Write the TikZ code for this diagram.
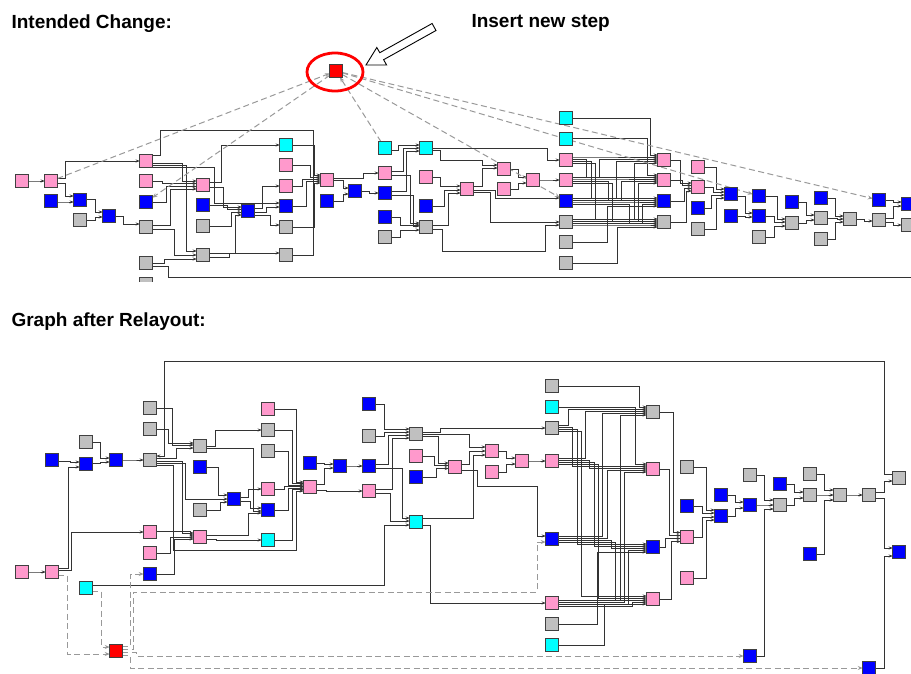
\documentclass[tikz,border=0pt]{standalone}
\usepackage{fontspec}
\setmainfont{Liberation Sans}
\usetikzlibrary{arrows.meta}
\definecolor{cPink}{HTML}{FF99CC}
\definecolor{cBlue}{HTML}{0000FF}
\definecolor{cGray}{HTML}{C0C0C0}
\definecolor{cCyan}{HTML}{00FFFF}
\definecolor{cRed}{HTML}{FF0000}
\pgfdeclarelayer{bg}
\pgfsetlayers{bg,main}
\tikzset{
  nd/.style={rectangle, draw=black!75, line width=0.8pt, minimum size=12.5pt, inner sep=0pt, outer sep=0pt},
  npk/.style={nd, fill=cPink}, nbl/.style={nd, fill=cBlue}, ngy/.style={nd, fill=cGray},
  ncy/.style={nd, fill=cCyan}, nrd/.style={nd, fill=cRed},
  edg/.style={draw=black!80, line width=0.6pt, -{Stealth[length=4pt,width=3pt]}},
  edl/.style={draw=black!80, line width=0.6pt},
  edd/.style={draw=black!40, line width=1pt, dash pattern=on 6pt off 3.5pt, -{Stealth[length=5pt,width=4pt]}},
  hdr/.style={anchor=base west, font=\bfseries\fontsize{19}{22}\selectfont}
}
\newcommand{\cx}[5]{\draw[edg] ([yshift=#2pt]#1.east) -- ++(#3,0) |- ([yshift=#5pt]#4.west);}
\begin{document}
\begin{tikzpicture}[x=1pt,y=-1pt]
\useasboundingbox (0,0) rectangle (911,673);
\node[hdr] (h1) at (8,28) {Intended Change:};
\node[hdr] (h2) at (468,27) {Insert new step};
\node[hdr] (h3) at (8,326) {Graph after Relayout:};
% ================= TOP =================
\begin{scope}
\clip (0,0) rectangle (911,281);
\node[npk] (t1) at (22,181) {};
\node[npk] (t2) at (51,181) {};
\node[nbl] (t3) at (51,201) {};
\node[nbl] (t4) at (80,200) {};
\node[ngy] (t5) at (80,220) {};
\node[nbl] (t6) at (109,216) {};
\node[npk] (t7) at (146,161) {};
\node[npk] (t8) at (146,181) {};
\node[nbl] (t9) at (146,202) {};
\node[ngy] (t10) at (146,227) {};
\node[ngy] (t11) at (146,263) {};
\node[ngy] (t12) at (146,284) {};
\node[npk] (t13) at (203,185) {};
\node[nbl] (t14) at (203,205) {};
\node[ngy] (t15) at (203,226) {};
\node[ngy] (t16) at (203,255) {};
\node[nbl] (t17) at (248,211) {};
\node[ncy] (t18) at (286,145) {};
\node[npk] (t19) at (286,165) {};
\node[npk] (t20) at (286,186) {};
\node[nbl] (t21) at (286,206) {};
\node[ngy] (t22) at (286,227) {};
\node[ngy] (t23) at (286,255) {};
\node[npk] (t24) at (327,180) {};
\node[nbl] (t25) at (327,201) {};
\node[nbl] (t26) at (355,191) {};
\node[ncy] (t27) at (385,148) {};
\node[npk] (t28) at (385,173) {};
\node[nbl] (t29) at (385,193) {};
\node[nbl] (t30) at (385,217) {};
\node[ngy] (t31) at (385,237) {};
\node[ncy] (t32) at (426,148) {};
\node[npk] (t33) at (426,177) {};
\node[nbl] (t34) at (426,206) {};
\node[ngy] (t35) at (426,227) {};
\node[npk] (t36) at (467,189) {};
\node[npk] (t37) at (504,169) {};
\node[npk] (t38) at (504,189) {};
\node[npk] (t39) at (533,180) {};
\node[ncy] (t40) at (566,118) {};
\node[ncy] (t41) at (566,139) {};
\node[npk] (t42) at (566,160) {};
\node[npk] (t43) at (566,180) {};
\node[nbl] (t44) at (566,201) {};
\node[ngy] (t45) at (566,222) {};
\node[ngy] (t46) at (566,242) {};
\node[ngy] (t47) at (566,263) {};
\node[npk] (t48) at (664,160) {};
\node[npk] (t49) at (664,180) {};
\node[nbl] (t50) at (664,201) {};
\node[ngy] (t51) at (664,222) {};
\node[npk] (t52) at (698,167) {};
\node[npk] (t53) at (698,187) {};
\node[nbl] (t54) at (698,208) {};
\node[ngy] (t55) at (698,229) {};
\node[nbl] (t56) at (731,194) {};
\node[nbl] (t57) at (731,216) {};
\node[nbl] (t58) at (759,196) {};
\node[nbl] (t59) at (759,216) {};
\node[ngy] (t60) at (759,237) {};
\node[nbl] (t61) at (792,202) {};
\node[ngy] (t62) at (792,223) {};
\node[nbl] (t63) at (821,198) {};
\node[ngy] (t64) at (821,218) {};
\node[ngy] (t65) at (821,239) {};
\node[ngy] (t66) at (850,219) {};
\node[nbl] (t67) at (879,200) {};
\node[ngy] (t68) at (879,220) {};
\node[nbl] (t69) at (908,204) {};
\node[ngy] (t70) at (908,225) {};
\node[nrd] (tr) at (336,71) {};
\coordinate (rt) at (915,277);
\draw[cRed, line width=2.8pt] (335,72) ellipse [x radius=28pt, y radius=19pt];
\draw[black, line width=0.9pt, fill=white] (366,65) -- (386.6,65.0) -- (383.6,59.7) -- (436,30.5) -- (432.1,23.5) -- (379.8,52.7) -- (376.8,47.5) -- cycle;
\begin{pgfonlayer}{bg}
\cx{t1}{0}{10}{t2}{0}
\cx{t2}{3}{8}{t7}{0}
\cx{t2}{-2}{8}{t4}{4}
\cx{t3}{-1}{10}{t4}{-2}
\cx{t4}{1}{9}{t6}{4}
\cx{t5}{0}{9}{t6}{-1}
\cx{t6}{0}{8}{t10}{3}
\cx{t7}{-2}{30}{t13}{4}
\cx{t8}{0}{10}{t13}{1.5}
\cx{t9}{0}{14}{t13}{-1.5}
\cx{t10}{2}{18}{t13}{-4}
\cx{t7}{-4}{34}{t16}{4}
\cx{t10}{-2}{22}{t16}{0}
\cx{t11}{0}{12}{t16}{-4}
\cx{t13}{-2}{14}{t17}{4}
\cx{t14}{0}{18}{t17}{1.5}
\cx{t15}{0}{22}{t17}{-1.5}
\cx{t16}{2}{26}{t17}{-4}
\cx{t16}{-2}{20}{t23}{2}
\cx{t13}{3}{12}{t18}{0}
\draw[edg] ([yshift=-6pt]t7.east) -- ++(62,0) |- ([yshift=3pt]t21.west);
\cx{t17}{3}{8}{t20}{0}
\cx{t17}{-1}{12}{t21}{-1}
\cx{t17}{-4}{16}{t22}{2}
\cx{t18}{0}{22}{t24}{5}
\cx{t19}{0}{18}{t24}{3}
\cx{t20}{0}{10}{t24}{1}
\cx{t21}{0}{14}{t24}{-1}
\cx{t22}{0}{22}{t24}{-3}
\draw[edl] (t23.east) -| (313,130) -| ([xshift=8pt,yshift=6pt]t7.east) -- ([yshift=6pt]t7.east);
\draw[edl] ([yshift=-3pt]t11.east) -- ++(16,0) |- (rt);
\cx{t24}{0}{10}{t26}{3}
\cx{t25}{0}{10}{t26}{-3}
\cx{t24}{2}{30}{t28}{0}
\cx{t26}{0}{8}{t29}{0}
\cx{t27}{-2}{7}{t32}{3}
\cx{t28}{2}{12}{t32}{0}
\cx{t29}{2}{15}{t32}{-3}
\cx{t28}{-2}{19}{t35}{4}
\cx{t29}{-2}{22}{t35}{1}
\cx{t30}{0}{9}{t35}{2}
\cx{t31}{0}{9}{t35}{-3}
\cx{t32}{0}{115}{t42}{0}
\draw[edg] ([yshift=-2pt]t32.east) -- ++(8,0) |- (482,160) |- ([yshift=4pt]t37.west);
\cx{t33}{0}{8}{t36}{3}
\cx{t34}{0}{12}{t36}{-1}
\cx{t35}{2}{16}{t36}{-4}
\draw[edg] ([yshift=-2pt]t35.east) -- ++(10,0) |- (545,251) |- ([yshift=-3pt]t45.west);
\cx{t36}{3}{9}{t37}{1}
\cx{t36}{-3}{17}{t45}{0}
\cx{t36}{-1}{22}{t44}{3}
\cx{t37}{0}{8}{t39}{3}
\cx{t38}{0}{8}{t39}{-3}
\cx{t39}{0}{10}{t43}{0}
\foreach \sn [count=\i from 0] in {t42,t43,t44,t45}{
  \foreach \tn [count=\j from 0] in {t48,t49,t50,t51}{
    \pgfmathsetmacro{\dxx}{10+4.3*(4*\i+\j)}
    \pgfmathsetmacro{\sof}{3-2*\j}
    \pgfmathsetmacro{\tof}{3-2*\i}
    \draw[edg] ([yshift=\sof pt]\sn.east) -- ++(\dxx,0) |- ([yshift=\tof pt]\tn.west);
  }}
\cx{t40}{0}{78}{t48}{5}
\cx{t41}{1}{75}{t49}{5}
\cx{t46}{0}{35}{t50}{-5}
\cx{t47}{0}{45}{t51}{-5}
\cx{t48}{0}{10}{t53}{4}
\cx{t49}{0}{12}{t53}{1.5}
\cx{t50}{0}{14}{t53}{-1.5}
\cx{t51}{0}{16}{t53}{-4}
\cx{t52}{0}{12}{t56}{5}
\cx{t53}{0}{9}{t56}{2}
\cx{t54}{0}{7}{t56}{-1}
\cx{t55}{0}{12}{t56}{-4}
\cx{t56}{-2}{8}{t59}{3}
\cx{t57}{0}{8}{t59}{-1}
\cx{t58}{0}{12}{t62}{4}
\cx{t59}{0}{9}{t62}{1}
\cx{t60}{0}{9}{t62}{-3}
\cx{t61}{0}{8}{t64}{3}
\cx{t62}{0}{8}{t64}{-2}
\cx{t63}{0}{8}{t66}{3}
\cx{t64}{0}{10}{t66}{0}
\cx{t65}{0}{8}{t66}{-3}
\cx{t66}{0}{8}{t68}{-1}
\cx{t67}{0}{8}{t69}{2}
\cx{t68}{2}{8}{t69}{-2}
\cx{t68}{-2}{8}{t70}{0}
\draw[edd] (t2) -- (tr);
\draw[edd] (tr) -- (t9);
\draw[edd] (t27) -- (tr);
\draw[edd] (tr) -- (t44);
\draw[edd] (tr) -- (t58);
\draw[edd] (tr) -- (t67);
\end{pgfonlayer}
\end{scope}
% ================= BOTTOM =================
\node[npk] (b1) at (22,572) {};
\node[npk] (b2) at (52,572) {};
\node[ncy] (b3) at (86,588) {};
\node[nrd] (b4) at (116,651) {};
\node[nbl] (b5) at (52,460) {};
\node[ngy] (b6) at (86,442) {};
\node[nbl] (b7) at (86,464) {};
\node[nbl] (b8) at (116,460) {};
\node[ngy] (b9) at (150,408) {};
\node[ngy] (b10) at (150,429) {};
\node[ngy] (b11) at (150,460) {};
\node[npk] (b12) at (150,532) {};
\node[npk] (b13) at (150,553) {};
\node[nbl] (b14) at (150,574) {};
\node[ngy] (b15) at (200,446) {};
\node[nbl] (b16) at (200,467) {};
\node[ngy] (b17) at (200,510) {};
\node[npk] (b18) at (200,537) {};
\node[nbl] (b19) at (234,499) {};
\node[npk] (b20) at (268,409) {};
\node[ngy] (b21) at (268,430) {};
\node[ngy] (b22) at (268,451) {};
\node[npk] (b23) at (268,489) {};
\node[nbl] (b24) at (268,510) {};
\node[ncy] (b25) at (268,540) {};
\node[nbl] (b26) at (310,463) {};
\node[npk] (b27) at (310,487) {};
\node[nbl] (b28) at (340,466) {};
\node[nbl] (b29) at (369,404) {};
\node[ngy] (b30) at (369,436) {};
\node[nbl] (b31) at (369,466) {};
\node[npk] (b32) at (369,491) {};
\node[ngy] (b33) at (416,434) {};
\node[npk] (b34) at (416,456) {};
\node[nbl] (b35) at (416,477) {};
\node[ncy] (b36) at (416,522) {};
\node[npk] (b37) at (455,467) {};
\node[npk] (b38) at (492,451) {};
\node[npk] (b39) at (492,472) {};
\node[npk] (b40) at (522,461) {};
\node[ngy] (b41) at (552,386) {};
\node[ncy] (b42) at (552,407) {};
\node[ngy] (b43) at (552,428) {};
\node[npk] (b44) at (552,461) {};
\node[nbl] (b45) at (552,539) {};
\node[npk] (b46) at (552,603) {};
\node[ngy] (b47) at (552,624) {};
\node[ncy] (b48) at (552,645) {};
\node[ngy] (b49) at (653,412) {};
\node[npk] (b50) at (653,469) {};
\node[nbl] (b51) at (653,547) {};
\node[npk] (b52) at (653,599) {};
\node[ngy] (b53) at (687,467) {};
\node[nbl] (b54) at (687,506) {};
\node[npk] (b55) at (687,537) {};
\node[npk] (b56) at (687,578) {};
\node[nbl] (b57) at (721,495) {};
\node[nbl] (b58) at (721,516) {};
\node[ngy] (b59) at (750,475) {};
\node[nbl] (b60) at (750,505) {};
\node[nbl] (b61) at (750,656) {};
\node[nbl] (b62) at (780,484) {};
\node[ngy] (b63) at (780,505) {};
\node[ngy] (b64) at (810,474) {};
\node[ngy] (b65) at (810,495) {};
\node[nbl] (b66) at (810,554) {};
\node[ngy] (b67) at (840,495) {};
\node[ngy] (b68) at (869,495) {};
\node[ngy] (b69) at (899,478) {};
\node[nbl] (b70) at (899,552) {};
\node[nbl] (b71) at (869,668) {};
\begin{pgfonlayer}{bg}
\cx{b1}{0}{10}{b2}{0}
\cx{b2}{4}{10}{b7}{-3}
\cx{b2}{2}{13}{b12}{0}
\cx{b5}{-1}{12}{b7}{2}
\cx{b6}{0}{8}{b8}{2}
\cx{b7}{1}{8}{b8}{-2}
\cx{b8}{0}{10}{b11}{0}
\cx{b9}{0}{16}{b15}{1}
\cx{b10}{0}{12}{b15}{3}
\cx{b11}{2}{20}{b15}{-2}
\cx{b11}{-3}{29}{b19}{0}
\cx{b11}{-1}{26}{b18}{4}
\draw[edg] ([yshift=-5pt]b11.east) -- ++(17,0) |- (296,550) |- ([yshift=-4pt]b27.west);
\cx{b15}{0}{9}{b21}{0}
\cx{b15}{-2}{47}{b24}{-1}
\cx{b16}{0}{12}{b19}{4}
\cx{b17}{0}{14}{b19}{-3}
\cx{b12}{1}{34}{b18}{2}
\cx{b13}{0}{14}{b18}{0}
\cx{b14}{0}{18}{b18}{-2}
\cx{b18}{2}{42}{b24}{-3}
\cx{b18}{-2}{10}{b25}{0}
\cx{b19}{2}{8}{b23}{0}
\cx{b19}{-2}{10}{b24}{2}
\cx{b20}{0}{22}{b27}{5}
\cx{b21}{0}{18}{b27}{3.5}
\cx{b22}{0}{14}{b27}{2}
\cx{b23}{0}{10}{b27}{0.5}
\cx{b24}{0}{14}{b27}{-1}
\cx{b25}{0}{18}{b27}{-2.5}
\cx{b26}{0}{8}{b28}{2}
\cx{b27}{3}{8}{b28}{-2}
\cx{b27}{-3}{10}{b32}{0}
\cx{b28}{0}{8}{b31}{0}
\cx{b29}{0}{9}{b33}{5}
\cx{b30}{0}{9}{b33}{2}
\cx{b31}{2}{13}{b33}{-1}
\cx{b32}{2}{17}{b33}{-4}
\cx{b31}{-2}{27}{b36}{4}
\cx{b32}{-2}{15}{b36}{1}
\cx{b3}{3}{292}{b36}{-3}
\cx{b33}{-2}{16}{b37}{4}
\cx{b34}{0}{12}{b37}{1.5}
\cx{b35}{0}{14}{b37}{-1.5}
\cx{b33}{2}{18}{b43}{0}
\cx{b33}{0}{47}{b38}{4}
\cx{b37}{3}{8}{b38}{0}
\cx{b36}{4}{51}{b38}{-4}
\draw[edg] ([yshift=-3pt]b37.east) -- ++(16,0) |- (537,486) |- ([yshift=3pt]b45.west);
\cx{b36}{-3}{8}{b46}{0}
\cx{b38}{0}{8}{b40}{3}
\cx{b39}{0}{8}{b40}{-3}
\cx{b40}{0}{10}{b44}{0}
\cx{b41}{0}{81}{b49}{5}
\cx{b42}{0}{77}{b50}{5}
\foreach \sn [count=\i from 0] in {b43,b44,b45,b46}{
  \foreach \tn [count=\j from 0] in {b49,b50,b51,b52}{
    \pgfmathsetmacro{\dxx}{10+4.3*(4*\i+\j)}
    \pgfmathsetmacro{\sof}{3-2*\j}
    \pgfmathsetmacro{\tof}{3-2*\i}
    \draw[edg] ([yshift=\sof pt]\sn.east) -- ++(\dxx,0) |- ([yshift=\tof pt]\tn.west);
  }}
\cx{b47}{0}{39}{b51}{-5}
\cx{b48}{0}{46}{b52}{-5}
\cx{b49}{0}{14}{b55}{4.5}
\cx{b50}{0}{10}{b55}{1.5}
\cx{b51}{0}{6}{b55}{-1.5}
\cx{b52}{0}{12}{b55}{-4.5}
\cx{b53}{0}{13}{b58}{6}
\cx{b54}{0}{9}{b58}{3}
\cx{b55}{0}{9}{b58}{-1}
\cx{b56}{0}{13}{b58}{-4}
\cx{b57}{0}{8}{b60}{3}
\cx{b58}{0}{8}{b60}{-3}
\cx{b59}{0}{8}{b63}{5}
\cx{b60}{0}{10}{b63}{0}
\cx{b61}{0}{8}{b63}{-4}
\cx{b62}{0}{8}{b65}{3}
\cx{b63}{0}{8}{b65}{-3}
\cx{b64}{0}{8}{b67}{5}
\cx{b65}{0}{10}{b67}{0}
\cx{b66}{0}{8}{b67}{-5}
\cx{b67}{0}{10}{b68}{0}
\cx{b68}{3}{9}{b69}{-3}
\cx{b68}{-3}{9}{b70}{4}
\cx{b71}{0}{9}{b70}{-4}
\draw[edg] ([yshift=4pt]b69.west) -| (884,361) -| ([xshift=8pt,yshift=4pt]b11.east) -- ([yshift=4pt]b11.east);
\draw[edd] ([yshift=-3pt]b2.east) -- ++(9,0) |- ([yshift=-3pt]b4.west);
\draw[edd] ([yshift=-3pt]b3.east) -- ++(9,0) |- ([yshift=4pt]b4.west);
\draw[edd] ([yshift=4.5pt]b4.east) -- ++(8,0) |- (b14.west);
\draw[edd] ([yshift=1.5pt]b4.east) -- ++(11,0) |- (537,592) |- ([yshift=-3pt]b45.west);
\draw[edd] ([yshift=-1.5pt]b4.east) -- ++(14,0) |- (b61.west);
\draw[edd] ([yshift=-4.5pt]b4.east) -- ++(8,0) |- (b71.west);
\end{pgfonlayer}
\end{tikzpicture}
\end{document}
